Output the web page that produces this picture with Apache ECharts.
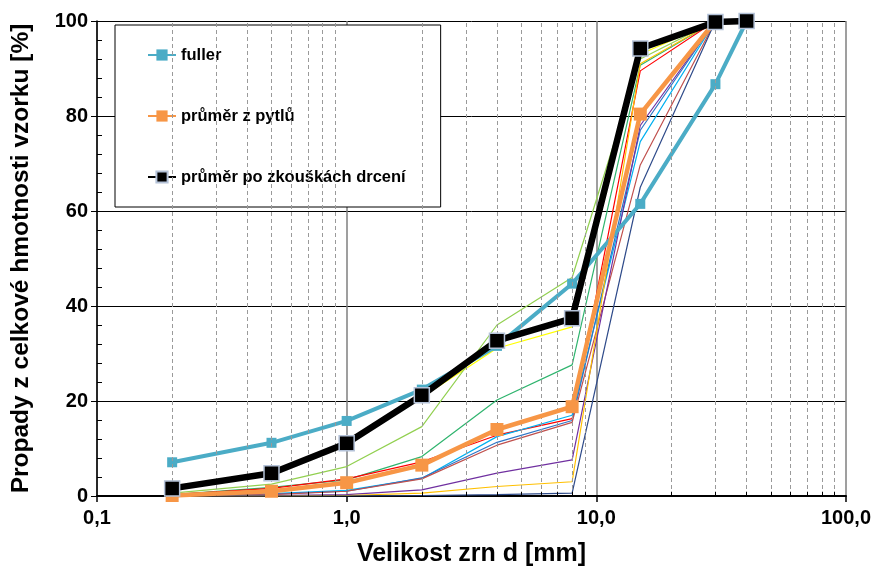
<!DOCTYPE html>
<html>
<head>
<meta charset="utf-8">
<script src="https://cdn.jsdelivr.net/npm/echarts@6/dist/echarts.min.js"></script>
<style>
html, body { margin: 0; padding: 0; background: #fff; }
#main { width: 874px; height: 575px; }
</style>
</head>
<body>
<div id="main"></div>
<script>
// velikosti sít [mm]
var sita = [0.2, 0.5, 1, 2, 4, 8, 15, 30, 40]
// hlavní křivky
var fuller = [7.1, 11.2, 15.8, 22.4, 31.6, 44.7, 61.5, 86.7, 100]
var prumerPytle = [0.1, 1.0, 2.8, 6.5, 14.0, 18.8, 80.4, 100]
var prumerDrceni = [1.6, 4.8, 11.1, 21.2, 32.7, 37.4, 94.2, 99.8, 100]
// jednotlivé vzorky (tenké čáry, síta 0,2 .. 30)
var vzorek1 = [1.3, 4.6, 10.9, 20.8, 31.1, 35.6, 93.0, 100]
var vzorek2 = [0.6, 2.5, 6.2, 14.6, 36.0, 46.0, 92.0, 100]
var vzorek3 = [0.3, 1.8, 3.4, 8.3, 20.2, 27.6, 90.7, 100]
var vzorek4 = [0.3, 1.6, 3.6, 7.2, 12.8, 16.3, 89.5, 100]
var vzorek5 = [0.1, 0.5, 1.2, 3.7, 12.5, 17.0, 74.6, 100]
var vzorek6 = [0.1, 0.4, 1.0, 3.8, 11.3, 15.9, 77.0, 100]
var vzorek7 = [0.0, 0.3, 1.0, 3.6, 10.7, 15.5, 69.7, 100]
var vzorek8 = [0.0, 0.1, 0.3, 1.3, 4.8, 7.6, 78.0, 100]
var vzorek9 = [0.0, 0.0, 0.1, 0.6, 2.0, 3.0, 91.0, 100]
var vzorek10 = [0.0, 0.0, 0.0, 0.1, 0.3, 0.6, 65.0, 100]
var vzorky = [vzorek1, vzorek2, vzorek3, vzorek4, vzorek5, vzorek6, vzorek7, vzorek8, vzorek9, vzorek10]
var barvyVzorku = ['#ffff00', '#92d050', '#2fb46e', '#ff0000', '#00b0f0', '#2e75c6', '#c0504d', '#7030a0', '#ffc000', '#2f4b8a']
// vedlejší mřížka na log ose
var vedlejsiX = [0.2, 0.3, 0.4, 0.5, 0.6, 0.7, 0.8, 0.9, 2, 3, 4, 5, 6, 7, 8, 9, 20, 30, 40, 50, 60, 70, 80, 90]

var font = "'Liberation Sans', Arial, sans-serif"

function body(ys) {
  return ys.map(function (y, i) { return [sita[i], y] })
}

var myChart = echarts.init(document.getElementById('main'))

var series = [
  {
    name: 'mrizka', type: 'line', data: [], z: 1, silent: true,
    markLine: {
      silent: true, animation: false, symbol: ['none', 'none'],
      label: { show: false },
      lineStyle: { type: [4, 3], color: '#9a9a9a', width: 1 },
      data: vedlejsiX.map(function (v) { return { xAxis: v } })
    }
  },
  {
    name: 'ticky', type: 'line', data: [], z: 1, silent: true,
    markLine: {
      silent: true, animation: false, symbol: ['none', 'none'],
      label: { show: false },
      lineStyle: { type: 'solid', color: '#000', width: 1 },
      data: vedlejsiX.map(function (v) { return [{ coord: [v, 0] }, { coord: [v, 0.9] }] })
    }
  }
]

vzorky.forEach(function (ys, i) {
  series.push({
    name: 'vzorek ' + (i + 1), type: 'line', data: body(ys), z: 3,
    showSymbol: false, symbol: 'none',
    lineStyle: { color: barvyVzorku[i], width: 1.2 },
    itemStyle: { color: barvyVzorku[i] }
  })
})

series.push({
  name: 'fuller', type: 'line', data: body(fuller), z: 4,
  symbol: 'rect', symbolSize: 10,
  lineStyle: { color: '#4bacc6', width: 4 },
  itemStyle: { color: '#4bacc6' }
})
series.push({
  name: 'průměr z pytlů', type: 'line', data: body(prumerPytle), z: 5,
  symbol: 'rect', symbolSize: 13,
  lineStyle: { color: '#f79646', width: 4.5 },
  itemStyle: { color: '#f79646' }
})
series.push({
  name: 'průměr po zkouškách drcení', type: 'line', data: body(prumerDrceni), z: 6,
  symbol: 'rect', symbolSize: 15,
  lineStyle: { color: '#000', width: 6.5 },
  itemStyle: { color: '#000', borderColor: '#b4c2d8', borderWidth: 1.5 }
})

var option = {
  animation: false,
  backgroundColor: '#fff',
  grid: { left: 97, right: 27, top: 21, bottom: 79 },
  legend: {
    data: ['fuller', 'průměr z pytlů', 'průměr po zkouškách drcení'],
    orient: 'vertical', left: 115, top: 25,
    padding: [21, 35, 21, 32],
    itemGap: 43, itemWidth: 28, itemHeight: 14, itemTextGap: 3,
    backgroundColor: '#fff', borderColor: '#000', borderWidth: 1, borderRadius: 0,
    selectedMode: false,
    textStyle: { fontFamily: font, fontWeight: 'bold', fontSize: 16.5, lineHeight: 18, color: '#000' }
  },
  xAxis: [{
    type: 'log', logBase: 10, min: 0.1, max: 100,
    axisLine: { lineStyle: { color: '#000', width: 2 } },
    axisTick: { show: true, length: 6, lineStyle: { color: '#000', width: 1.5 } },
    axisLabel: {
      margin: 12, fontFamily: font, fontSize: 20, fontWeight: 'bold', color: '#000',
      formatter: function (v) { return v.toFixed(1).replace('.', ',') }
    },
    splitLine: { show: true, lineStyle: { color: '#7f7f7f', width: 1.5 } },
    name: 'Velikost zrn d [mm]', nameLocation: 'middle', nameGap: 46,
    nameTextStyle: { fontFamily: font, fontSize: 25, fontWeight: 'bold', color: '#000' }
  }],
  yAxis: [
    {
      type: 'value', min: 0, max: 100, interval: 20,
      axisLine: { show: true, lineStyle: { color: '#000', width: 1.5 } },
      axisTick: { show: true, length: 6, lineStyle: { color: '#000' } },
      axisLabel: { margin: 9, fontFamily: font, fontSize: 20, fontWeight: 'bold', color: '#000' },
      splitLine: { show: true, lineStyle: { color: '#000', width: 1 } },
      name: 'Propady z celkové hmotnosti vzorku [%]', nameLocation: 'middle', nameGap: 63,
      nameTextStyle: { fontFamily: font, fontSize: 24.5, fontWeight: 'bold', color: '#000' }
    },
    {
      type: 'value', min: 0, max: 100, interval: 20, position: 'left',
      axisLine: { show: false },
      axisTick: { show: true, inside: true, length: 5, lineStyle: { color: '#000' } },
      minorTick: { show: true, splitNumber: 5, length: 5, lineStyle: { color: '#000' } },
      axisLabel: { show: false },
      splitLine: { show: false }
    }
  ],
  series: series
}

myChart.setOption(option)
</script>
</body>
</html>
